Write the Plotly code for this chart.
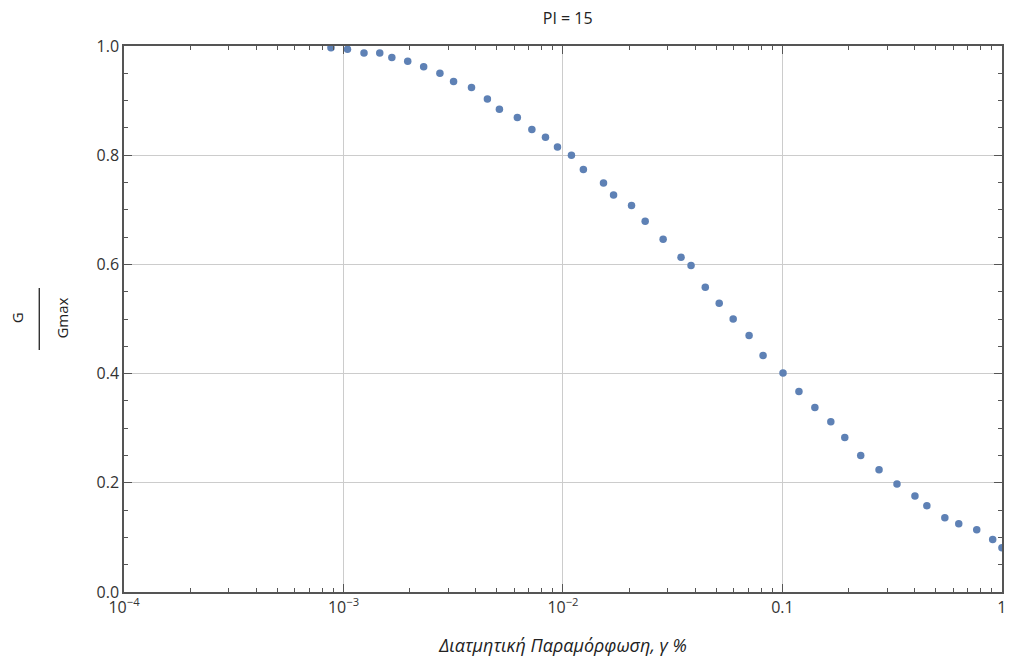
import plotly.graph_objects as go

# Shear strain gamma (%) and normalised modulus G/Gmax
strain = [8.77e-4, 1.043e-3, 1.240e-3, 1.463e-3, 1.661e-3, 1.962e-3, 2.319e-3, 2.750e-3,
          3.174e-3, 3.830e-3, 4.526e-3, 5.133e-3, 6.196e-3, 7.218e-3, 8.325e-3, 9.44e-3,
          1.093e-2, 1.239e-2, 1.530e-2, 1.700e-2, 2.053e-2, 2.369e-2, 2.860e-2, 3.451e-2,
          3.833e-2, 4.451e-2, 5.150e-2, 5.963e-2, 7.047e-2, 8.159e-2, 0.1006, 0.1189,
          0.1405, 0.1661, 0.1923, 0.2273, 0.2755, 0.3325, 0.4015, 0.4550, 0.5493,
          0.6357, 0.7677, 0.9075, 1.0]
g_ratio = [0.997, 0.994, 0.987, 0.987, 0.979, 0.972, 0.962, 0.950, 0.935, 0.924,
           0.903, 0.884, 0.869, 0.847, 0.833, 0.815, 0.800, 0.774, 0.749, 0.727,
           0.708, 0.679, 0.646, 0.613, 0.598, 0.558, 0.529, 0.500, 0.470, 0.433,
           0.401, 0.367, 0.338, 0.312, 0.283, 0.250, 0.224, 0.198, 0.176, 0.158,
           0.136, 0.125, 0.114, 0.096, 0.081]

x_tickvals = [1e-4, 1e-3, 1e-2, 0.1, 1]
x_ticktext = ["10<sup>\u22124</sup>", "10<sup>\u22123</sup>", "10<sup>\u22122</sup>", "0.1", "1"]
y_tickvals = [0.0, 0.2, 0.4, 0.6, 0.8, 1.0]
y_ticktext = ["0.0", "0.2", "0.4", "0.6", "0.8", "1.0"]

FONT = "Open Sans"
AX = "#555555"
LAB = "#333333"

fig = go.Figure()
fig.add_trace(go.Scatter(
    x=strain, y=g_ratio, mode="markers",
    marker=dict(size=7.5, color="#5E81B5"),
    showlegend=False, hoverinfo="x+y",
))

# page body has an 8px default margin: size the figure so the plot area lands
# where the reference has it
fig.update_layout(
    width=1004, height=660,
    margin=dict(l=116, r=5, t=38, b=76),
    paper_bgcolor="white", plot_bgcolor="white",
    font=dict(family=FONT, size=16, color=LAB),
    title=dict(text="PI = 15", x=0.5575, xanchor="center", y=0.985, yanchor="middle",
               font=dict(family=FONT, size=16, color="#222222")),
)

fig.update_xaxes(
    type="log", range=[-4, 0.0003],
    tickvals=x_tickvals, ticktext=x_ticktext,
    ticks="inside", ticklen=8, tickwidth=1.2, tickcolor=AX,
    minor=dict(ticks="inside", ticklen=4, tickcolor=AX, dtick="D1", showgrid=False),
    showline=True, linecolor=AX, linewidth=1.5, mirror="ticks",
    showgrid=True, gridcolor="#CCCCCC", gridwidth=1,
    zeroline=False,
    tickfont=dict(family=FONT, size=16, color=LAB),
    title=dict(text="<i>\u0394\u03b9\u03b1\u03c4\u03bc\u03b7\u03c4\u03b9\u03ba\u03ae \u03a0\u03b1\u03c1\u03b1\u03bc\u03cc\u03c1\u03c6\u03c9\u03c3\u03b7, \u03b3 %</i>",
               font=dict(family=FONT, size=18, color="#222222"), standoff=22),
)
fig.update_yaxes(
    range=[0, 1],
    tickvals=y_tickvals, ticktext=y_ticktext,
    ticks="inside", ticklen=8, tickwidth=1.2, tickcolor=AX,
    minor=dict(ticks="inside", ticklen=4, tickcolor=AX, dtick=0.05, showgrid=False),
    showline=True, linecolor=AX, linewidth=1.5, mirror="ticks",
    showgrid=True, gridcolor="#CCCCCC", gridwidth=1,
    zeroline=False,
    tickfont=dict(family=FONT, size=16, color=LAB),
)

# rotated fraction label G / Gmax
fig.add_annotation(text="G", xref="paper", yref="paper", x=-0.1215, y=0.502,
                   xanchor="center", yanchor="middle", textangle=-90, showarrow=False,
                   font=dict(family=FONT, size=15, color="#222222"))
fig.add_annotation(text="Gmax", xref="paper", yref="paper", x=-0.071, y=0.502,
                   xanchor="center", yanchor="middle", textangle=-90, showarrow=False,
                   font=dict(family=FONT, size=15, color="#222222"))
fig.add_shape(type="line", xref="paper", yref="paper",
              x0=-0.0965, x1=-0.0965, y0=0.443, y1=0.557,
              line=dict(color="#222222", width=1.3))

fig.write_html("out.html")
